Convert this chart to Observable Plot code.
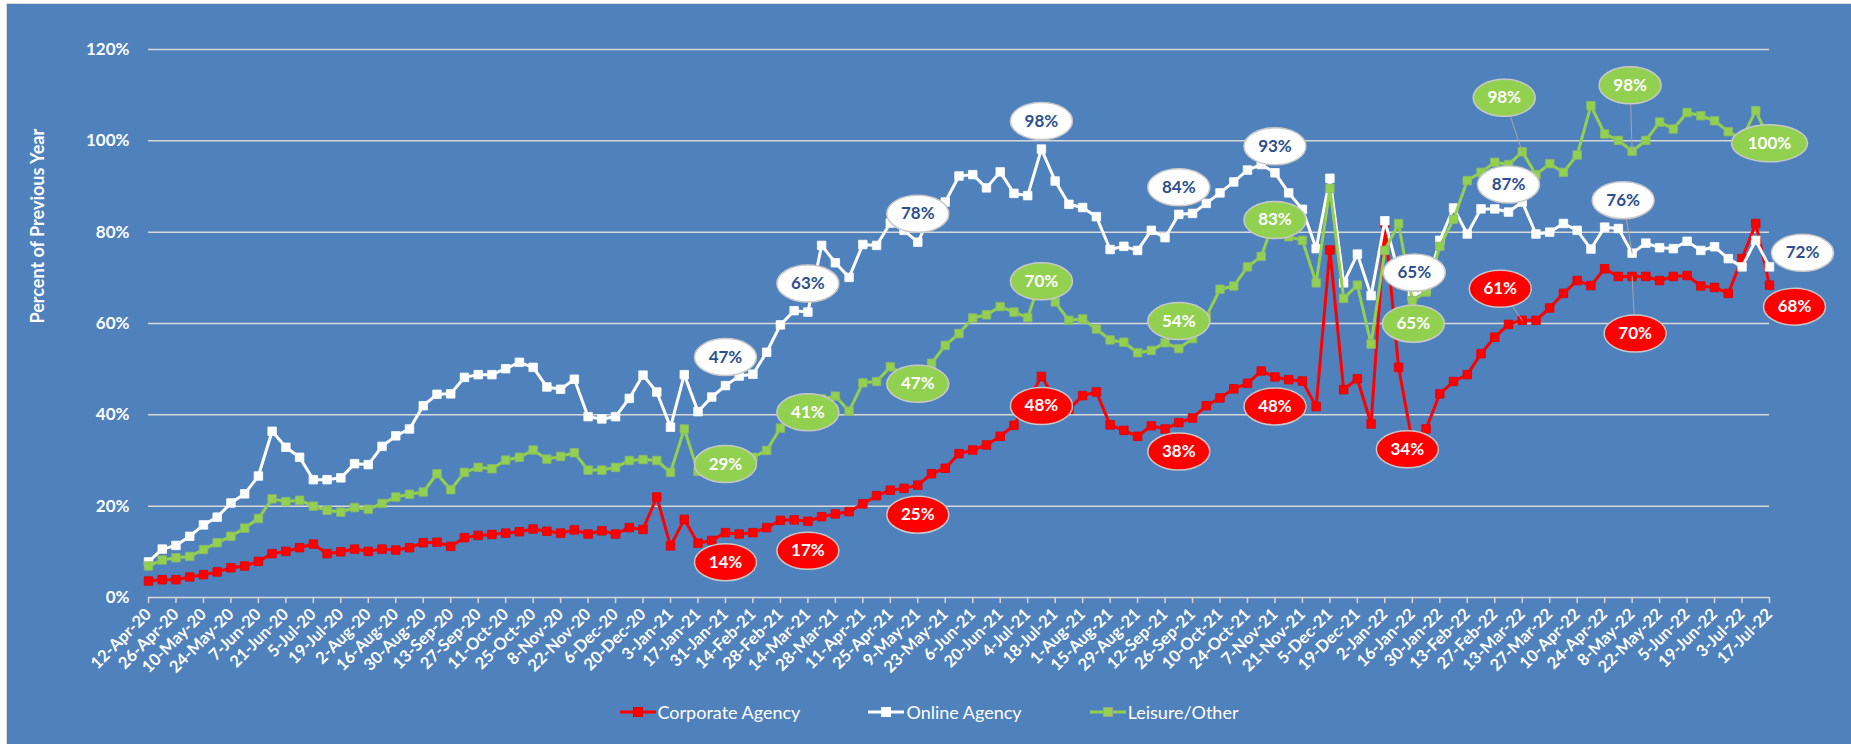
<!DOCTYPE html>
<html>
<head>
<meta charset="utf-8">
<script src="https://cdn.jsdelivr.net/npm/d3@7"></script>
<script src="https://cdn.jsdelivr.net/npm/@observablehq/plot@0.6"></script>
<style>
html, body { margin: 0; padding: 0; background: #ffffff; width: 1851px; height: 744px; overflow: hidden; }
#chart { position: absolute; left: 6px; top: 3px; width: 1845px; height: 741px; background: #4F81BD;
  border-left: 1px solid #D9D9D9; border-top: 1px solid #D9D9D9; box-sizing: border-box; font-family: Lato, sans-serif; }
#chart svg { display: block; }
#legend { position: absolute; left: 0; top: 690px; width: 100%; height: 36px; display: flex; justify-content: center;
  align-items: center; gap: 68px; color: #ffffff; font-family: Lato, sans-serif; font-size: 18px; }
.item { display: flex; align-items: center; }
.item svg { margin-right: 2px; }
</style>
</head>
<body>
<div id="chart"></div>
<script>
// ---- data ----
const tickLabels = ["12-Apr-20","26-Apr-20","10-May-20","24-May-20","7-Jun-20","21-Jun-20","5-Jul-20","19-Jul-20","2-Aug-20","16-Aug-20","30-Aug-20","13-Sep-20","27-Sep-20","11-Oct-20","25-Oct-20","8-Nov-20","22-Nov-20","6-Dec-20","20-Dec-20",
"3-Jan-21","17-Jan-21","31-Jan-21","14-Feb-21","28-Feb-21","14-Mar-21","28-Mar-21","11-Apr-21","25-Apr-21","9-May-21","23-May-21","6-Jun-21","20-Jun-21","4-Jul-21","18-Jul-21","1-Aug-21","15-Aug-21","29-Aug-21","12-Sep-21","26-Sep-21","10-Oct-21","24-Oct-21","7-Nov-21","21-Nov-21","5-Dec-21","19-Dec-21",
"2-Jan-22","16-Jan-22","30-Jan-22","13-Feb-22","27-Feb-22","13-Mar-22","27-Mar-22","10-Apr-22","24-Apr-22","8-May-22","22-May-22","5-Jun-22","19-Jun-22","3-Jul-22","17-Jul-22"];

const seriesNames = ["Corporate Agency", "Online Agency", "Leisure/Other"];

// weekly values, percent of previous year
const corporate = [3.6,3.9,3.9,4.5,5.0,5.6,6.5,6.9,7.9,9.6,
10.1,10.9,11.7,9.6,10.0,10.6,10.1,10.6,10.4,10.9,
12.0,12.1,11.2,13.1,13.6,13.8,14.1,14.4,15.0,14.5,
14.1,14.8,13.9,14.6,13.9,15.3,14.9,22.0,11.3,17.1,
11.9,12.5,14.2,13.9,14.2,15.3,16.9,17.0,16.7,17.7,
18.3,18.8,20.5,22.3,23.5,23.9,24.6,27.1,28.3,31.5,
32.3,33.4,35.3,37.7,43.0,48.4,43.5,41.2,44.2,45.0,
37.8,36.6,35.3,37.6,36.9,38.3,39.3,42.0,43.7,45.7,
46.9,49.6,48.3,47.7,47.4,41.8,76.1,45.5,47.9,38.0,
82.0,50.4,34.0,36.9,44.6,47.3,48.8,53.4,57.0,59.8,
60.7,60.7,63.4,66.6,69.4,68.3,72.0,70.3,70.3,70.3,
69.4,70.3,70.5,68.2,67.9,66.6,74.2,81.9,68.4];

const online = [7.8,10.6,11.4,13.4,15.9,17.6,20.7,22.7,26.6,36.4,
32.9,30.7,25.8,25.8,26.2,29.3,29.1,33.1,35.4,36.9,
42.0,44.5,44.6,48.2,48.8,48.8,50.1,51.5,50.4,46.1,
45.6,47.8,39.6,39.1,39.6,43.6,48.7,45.0,37.3,48.8,
40.7,43.9,46.4,48.5,48.9,53.7,59.7,62.8,62.5,77.1,
73.3,70.1,77.3,77.1,82.0,80.4,77.8,84.0,86.6,92.3,
92.6,89.7,93.2,88.5,88.0,98.2,91.2,86.1,85.4,83.4,
76.2,76.9,76.0,80.4,78.8,83.9,84.1,86.3,88.6,91.0,
93.6,94.8,93.0,88.6,85.0,76.4,91.8,68.9,75.2,66.1,
82.5,71.0,66.0,67.5,78.2,85.3,79.6,85.1,85.1,84.4,
86.6,79.6,80.0,81.9,80.4,76.3,81.1,80.8,75.4,77.6,
76.6,76.4,78.0,76.0,76.8,74.2,72.4,78.2,72.4];

const leisure = [6.9,8.2,8.7,9.0,10.5,12.0,13.4,15.2,17.3,21.6,
21.0,21.3,20.0,19.1,18.7,19.7,19.3,20.6,22.0,22.6,
23.1,27.1,23.6,27.4,28.5,28.2,30.1,30.7,32.3,30.3,
30.9,31.7,27.9,27.9,28.5,30.0,30.2,30.0,27.4,36.9,
27.6,28.3,29.0,29.8,30.7,32.2,37.1,39.5,41.0,43.5,
44.1,40.8,47.0,47.3,50.5,49.0,47.0,51.3,55.2,57.8,
61.2,61.9,63.7,62.5,61.3,70.0,64.7,60.7,61.0,58.8,
56.4,55.9,53.6,54.1,55.8,54.5,56.7,61.5,67.5,68.2,
72.4,74.7,83.0,79.0,78.2,68.9,89.6,65.5,68.4,55.5,
76.0,81.9,65.0,66.9,76.9,82.8,91.3,93.1,95.3,94.8,
97.6,92.6,95.0,93.1,96.9,107.7,101.5,100.1,97.7,100.1,
104.1,102.6,106.2,105.5,104.4,102.0,100.5,106.6,100.0];

const yTicks = [0, 20, 40, 60, 80, 100, 120];

// data labels: series, week index, text
const labelSeries = ["c","c","c","c","c","c","c","c","c","c",
                     "o","o","o","o","o","o","o","o","o","o",
                     "l","l","l","l","l","l","l","l","l","l"];
const labelIndex  = [42,48,56,65,75,82,92,100,108,118,
                     42,48,56,65,75,82,92,99,108,118,
                     42,48,56,65,75,82,92,100,108,118];
const labelText   = ["14%","17%","25%","48%","38%","48%","34%","61%","70%","68%",
                     "47%","63%","78%","98%","84%","93%","65%","87%","76%","72%",
                     "29%","41%","47%","70%","54%","83%","65%","98%","98%","100%"];

// ---- layout / style (not data) ----
const labelOffset = [[0,29.5],[0,29.5],[0,29.5],[0,29.5],[0,29],[0,29.5],[-5,7],[-22,-31.5],[3,57],[25,21.5],
                     [0,-28.5],[0,-28.5],[0,-28.5],[0,-28],[0,-27],[0,-26.5],[2,-23.5],[0,-27.5],[-9,-53],[33,-14],
                     [0,-1],[0,2],[0,1],[0,3.5],[0,-27.5],[0,1.5],[1,23],[-18,-54],[-2,-66],[0,2.5]];
const leaderFlag  = [0,0,0,0,0,0,0,1,1,0, 0,0,0,0,0,0,0,0,1,0, 0,0,0,0,0,0,0,1,1,0];

const parse = d3.utcParse("%d-%b-%y");
const tickDates = tickLabels.map(parse);
const start = tickDates[0];
const dates = corporate.map((_, i) => d3.utcDay.offset(start, 7 * i));

const series = {
  c: {name: seriesNames[0], values: corporate, color: "#FF0000", markStroke: "#E00000", labelFill: "#FF0000", labelText: "#FFFFFF"},
  o: {name: seriesNames[1], values: online, color: "#FFFFFF", markStroke: "#FFFFFF", labelFill: "#FFFFFF", labelText: "#2D4F8E"},
  l: {name: seriesNames[2], values: leisure, color: "#92D050", markStroke: "#8DB86A", labelFill: "#92D050", labelText: "#FFFFFF"}
};

function ellipseSymbol(rx, ry) {
  const k = 0.5522847498;
  return {draw(ctx) {
    ctx.moveTo(rx, 0);
    ctx.bezierCurveTo(rx, ry * k, rx * k, ry, 0, ry);
    ctx.bezierCurveTo(-rx * k, ry, -rx, ry * k, -rx, 0);
    ctx.bezierCurveTo(-rx, -ry * k, -rx * k, -ry, 0, -ry);
    ctx.bezierCurveTo(rx * k, -ry, rx, -ry * k, rx, 0);
    ctx.closePath();
  }};
}
const ell3 = ellipseSymbol(31, 18.5);
const ell4 = ellipseSymbol(38, 18.5);
const leaderShape = {draw(ctx, l) { ctx.moveTo(0, 0); ctx.lineTo(0, -l); }};

const seriesMarks = ["c", "o", "l"].flatMap(k => {
  const s = series[k];
  return [
    Plot.line(s.values, {x: (d, i) => dates[i], y: d => d, stroke: s.color, strokeWidth: 3}),
    Plot.dot(s.values, {x: (d, i) => dates[i], y: d => d, symbol: "square", r: 4.8, fill: s.color, stroke: s.markStroke, strokeWidth: 0.8})
  ];
});

const labelMarks = labelText.flatMap((t, j) => {
  const s = series[labelSeries[j]];
  const i = labelIndex[j];
  const [dx, dy] = labelOffset[j];
  const d = [{date: dates[i], value: s.values[i], text: t}];
  const out = [];
  if (leaderFlag[j]) {
    out.push(Plot.vector(d, {x: "date", y: "value", anchor: "start", length: Math.hypot(dx, dy),
      rotate: Math.atan2(dx, -dy) * 180 / Math.PI, stroke: "#A6A6A6", strokeWidth: 1, shape: leaderShape}));
  }
  out.push(Plot.dot(d, {x: "date", y: "value", dx, dy, symbol: t.length > 3 ? ell4 : ell3,
    fill: s.labelFill, stroke: "#C8C8C8", strokeWidth: 1.5}));
  out.push(Plot.text(d, {x: "date", y: "value", text: "text", dx, dy, fill: s.labelText, fontSize: 17, fontWeight: "bold"}));
  return out;
});

const plot = Plot.plot({
  width: 1844,
  height: 690,
  marginLeft: 141,
  marginRight: 82,
  marginTop: 45,
  marginBottom: 97,
  style: {background: "transparent", color: "#FFFFFF", fontFamily: "Lato, sans-serif", overflow: "visible"},
  x: {type: "utc", domain: [dates[0], dates[dates.length - 1]]},
  y: {domain: [0, 120]},
  marks: [
    Plot.ruleY(yTicks, {stroke: "#D9D9D9", strokeWidth: 1.5}),
    Plot.axisY({ticks: yTicks, tickFormat: d => d + "%", tickSize: 0, tickPadding: 19, fontSize: 17, fontWeight: "bold", fill: "#FFFFFF", label: null}),
    Plot.axisX({ticks: tickDates, tickFormat: d3.utcFormat("%-d-%b-%y"), tickRotate: -45, tickSize: 6, tickPadding: 8,
      stroke: "#D9D9D9", strokeWidth: 1.5, fill: "#FFFFFF", fontSize: 16.5, fontWeight: "bold", label: null}),
    Plot.text(["Percent of Previous Year"], {frameAnchor: "left", dx: -110, rotate: -90, fill: "#FFFFFF", fontSize: 18, fontWeight: "bold"}),
    ...seriesMarks,
    ...labelMarks
  ]
});

const chart = document.getElementById("chart");
chart.appendChild(plot);

// legend
const legend = document.createElement("div");
legend.id = "legend";
["c", "o", "l"].forEach(k => {
  const s = series[k];
  const item = document.createElement("div");
  item.className = "item";
  item.innerHTML = `<svg width="36" height="12"><line x1="0" x2="36" y1="6" y2="6" stroke="${s.color}" stroke-width="3"/>` +
    `<rect x="13.5" y="1.5" width="9" height="9" fill="${s.color}" stroke="${k === "l" ? "#A0A0A0" : s.markStroke}" stroke-width="1"/></svg>` +
    `<span>${s.name}</span>`;
  legend.appendChild(item);
});
chart.appendChild(legend);
</script>
</body>
</html>
